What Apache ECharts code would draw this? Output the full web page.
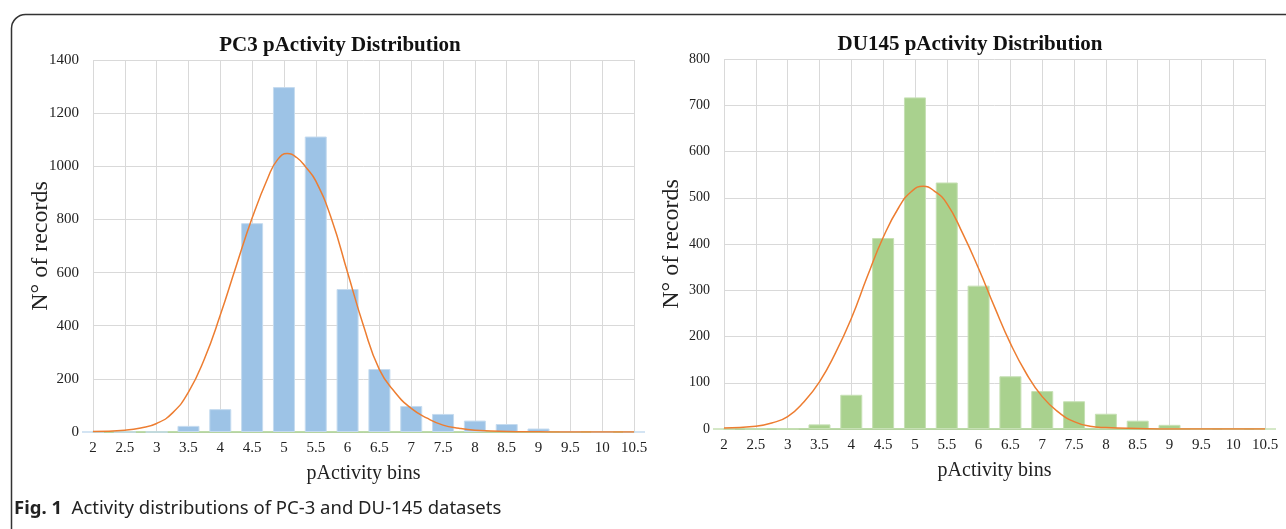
<!DOCTYPE html>
<html>
<head>
<meta charset="utf-8">
<script src="https://cdn.jsdelivr.net/npm/echarts@6/dist/echarts.min.js"></script>
<style>
html, body { margin: 0; padding: 0; background: #fff; }
#main { width: 1286px; height: 529px; }
</style>
</head>
<body>
<div id="main"></div>
<script>
// bins (x axis) and counts
var bins = [2, 2.5, 3, 3.5, 4, 4.5, 5, 5.5, 6, 6.5, 7, 7.5, 8, 8.5, 9, 9.5, 10, 10.5];
var pc3Counts = [0, 0, 0, 23, 86, 786, 1298, 1112, 538, 237, 98, 68, 43, 30, 13, 3, 0, 0];
var du145Counts = [0, 0, 0, 10, 74, 413, 717, 533, 310, 114, 82, 60, 33, 18, 9, 0, 0, 0];

// fitted curves (orange)
var pc3CurveX = [2, 2.5, 2.75, 3, 3.25, 3.5, 3.75, 4, 4.25, 4.5, 4.75, 4.9, 5.05, 5.2, 5.35, 5.5, 5.75, 6, 6.25, 6.5, 6.75, 7, 7.25, 7.5, 7.75, 8, 8.5, 9, 9.5, 10, 10.5];
var pc3Curve = [2, 7, 15, 32, 72, 150, 275, 440, 625, 805, 958, 1025, 1048, 1033, 995, 945, 800, 600, 400, 235, 148, 89, 52, 26, 14, 7, 2, 1, 0, 0, 0];
var du145CurveX = [2, 2.5, 2.75, 3, 3.25, 3.5, 3.75, 4, 4.25, 4.5, 4.75, 4.95, 5.13, 5.3, 5.5, 5.75, 6, 6.25, 6.5, 6.75, 7, 7.25, 7.5, 7.75, 8, 8.5, 9, 9.5, 10, 10.5];
var du145Curve = [2, 6, 13, 27, 58, 102, 164, 239, 329, 414, 480, 514, 525, 515, 488, 423, 347, 264, 185, 120, 70, 37, 16, 6, 3, 1, 0, 0, 0, 0];

var titles = ['PC3 pActivity Distribution', 'DU145 pActivity Distribution'];
var yMax = [1400, 800];
var yStep = [200, 100];
var yLabelSize = [15, 14];

function pairs(xs, ys) {
    var out = [];
    for (var i = 0; i < xs.length; i++) {
        out.push([xs[i], ys[i]]);
    }
    return out;
}

var serif = '"Liberation Serif", "Times New Roman", serif';
var gridColor = '#d9d9d9';

function xAxisOf(idx) {
    return {
        type: 'value',
        gridIndex: idx,
        min: 2,
        max: 10.5,
        interval: 0.5,
        name: 'pActivity bins',
        nameLocation: 'middle',
        nameGap: 32,
        nameMoveOverlap: false,
        nameTextStyle: { fontFamily: serif, fontSize: 20, color: '#222' },
        axisLine: { show: true, onZero: false, lineStyle: { color: '#a9d18e', width: 1.5 } },
        axisTick: { show: false },
        axisLabel: { fontFamily: serif, fontSize: 15, color: '#222', margin: 9 },
        splitLine: { show: true, lineStyle: { color: gridColor, width: 1 } }
    };
}

function yAxisOf(idx) {
    return {
        type: 'value',
        gridIndex: idx,
        min: 0,
        max: yMax[idx],
        interval: yStep[idx],
        name: 'N° of records',
        nameLocation: 'middle',
        nameGap: 40,
        nameMoveOverlap: false,
        nameTextStyle: { fontFamily: serif, fontSize: 24, color: '#222' },
        axisLine: { show: false },
        axisTick: { show: false },
        axisLabel: {
            fontFamily: serif, fontSize: yLabelSize[idx], color: '#222', margin: 14,
            formatter: function (v) { return String(v); }
        },
        splitLine: { show: true, lineStyle: { color: gridColor, width: 1 } }
    };
}

var myChart = echarts.init(document.getElementById('main'), null, { renderer: 'canvas' });
var option = {
    backgroundColor: '#fff',
    animation: false,
    title: [
        {
            text: titles[0], left: 335, top: 30, textAlign: 'center',
            textStyle: { fontFamily: serif, fontSize: 21, fontWeight: 'bold', color: '#111' }
        },
        {
            text: titles[1], left: 965, top: 29, textAlign: 'center',
            textStyle: { fontFamily: serif, fontSize: 21, fontWeight: 'bold', color: '#111' }
        }
    ],
    grid: [
        { left: 93, top: 60, width: 541, height: 372 },
        { left: 724, top: 59, width: 541, height: 370 }
    ],
    xAxis: [xAxisOf(0), xAxisOf(1)],
    yAxis: [yAxisOf(0), yAxisOf(1)],
    series: [
        {
            name: 'PC3', type: 'bar', xAxisIndex: 0, yAxisIndex: 0,
            barWidth: 22,
            itemStyle: { color: '#9dc3e6', borderColor: '#c5dbef', borderWidth: 1 },
            data: pairs(bins, pc3Counts)
        },
        {
            name: 'PC3 fit', type: 'line', xAxisIndex: 0, yAxisIndex: 0,
            smooth: 0.5, showSymbol: false,
            lineStyle: { color: '#ed7d31', width: 1.5 },
            data: pairs(pc3CurveX, pc3Curve)
        },
        {
            name: 'DU145', type: 'bar', xAxisIndex: 1, yAxisIndex: 1,
            barWidth: 22,
            itemStyle: { color: '#a9d18e', borderColor: '#c6e0b4', borderWidth: 1 },
            data: pairs(bins, du145Counts)
        },
        {
            name: 'DU145 fit', type: 'line', xAxisIndex: 1, yAxisIndex: 1,
            smooth: 0.5, showSymbol: false,
            lineStyle: { color: '#ed7d31', width: 1.5 },
            data: pairs(du145CurveX, du145Curve)
        }
    ],
    graphic: [
        {
            // figure frame: only top and left edges fall inside the canvas
            type: 'rect',
            shape: { x: 11.5, y: 14.5, width: 2000, height: 2000, r: 14 },
            style: { fill: 'none', stroke: '#333', lineWidth: 1.5 }
        },
        {
            type: 'text', left: 14, top: 499,
            style: {
                rich: {
                    b: { fontFamily: '"Noto Sans", sans-serif', fontSize: 18.5, fontWeight: 'bold', fill: '#222' },
                    n: { fontFamily: '"Noto Sans", sans-serif', fontSize: 18.5, fill: '#222' }
                },
                text: '{b|Fig. 1}{n|  Activity distributions of PC-3 and DU-145 datasets}'
            }
        }
    ]
};
myChart.setOption(option);
</script>
</body>
</html>
